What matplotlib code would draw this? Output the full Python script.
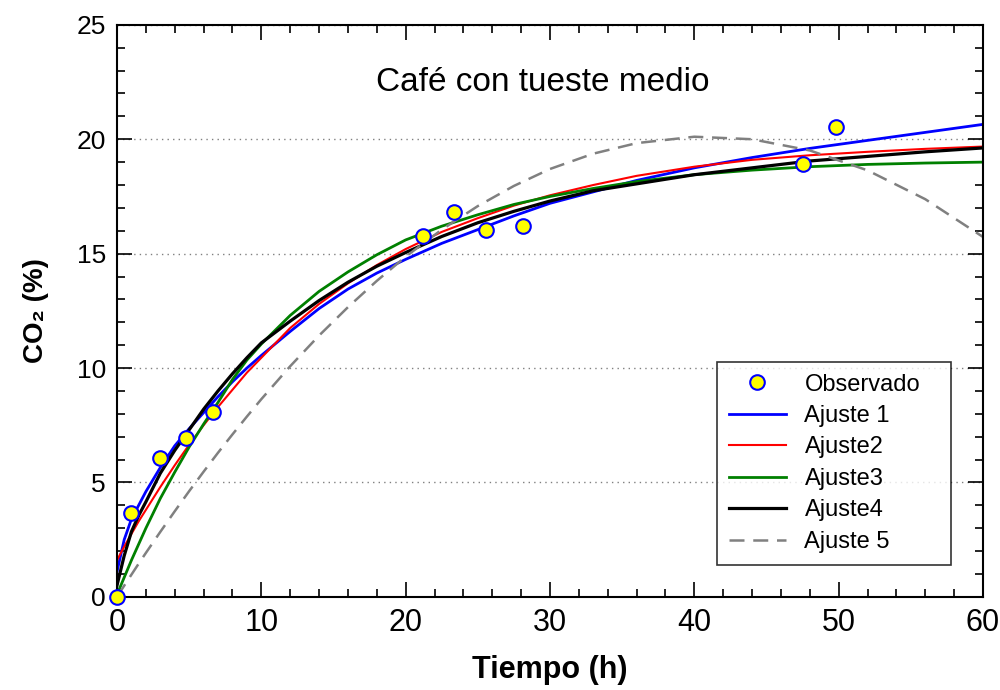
import matplotlib
matplotlib.use('Agg')
import matplotlib.pyplot as plt
from matplotlib.ticker import MultipleLocator

# observed CO2 (%) vs time (h)
obs_t = [0, 0.97, 2.98, 4.78, 6.65, 21.2, 23.35, 25.55, 28.15, 47.55, 49.8]
obs_co2 = [0, 3.67, 6.08, 6.95, 8.09, 15.78, 16.81, 16.04, 16.21, 18.91, 20.53]

# fitted curves
fit_t = [0, 0.5, 1, 1.5, 2, 3, 4, 5, 6, 7, 8, 9, 10, 12, 14, 16, 18, 20,
         22.5, 25, 27.5, 30, 33, 36, 40, 44, 48, 52, 56, 60]
ajuste1 = [1.1, 2.5, 3.4, 4.0, 4.6, 5.65, 6.6, 7.35, 8.05, 8.75, 9.4, 10.0,
           10.55, 11.6, 12.6, 13.45, 14.15, 14.75, 15.45, 16.05, 16.65, 17.2,
           17.7, 18.2, 18.75, 19.2, 19.6, 19.95, 20.3, 20.65]
ajuste2 = [1.6, 2.2, 2.75, 3.3, 3.8, 4.8, 5.75, 6.65, 7.5, 8.3, 9.05, 9.8,
           10.45, 11.75, 12.8, 13.7, 14.5, 15.2, 15.95, 16.55, 17.1, 17.55,
           18.0, 18.4, 18.8, 19.1, 19.3, 19.45, 19.58, 19.68]
ajuste3 = [0.1, 0.85, 1.6, 2.3, 3.0, 4.3, 5.45, 6.55, 7.55, 8.5, 9.5, 10.35,
           11.05, 12.3, 13.35, 14.2, 14.95, 15.6, 16.2, 16.7, 17.15, 17.5,
           17.85, 18.15, 18.45, 18.65, 18.8, 18.9, 18.96, 19.0]
ajuste4 = [0.5, 1.8, 2.85, 3.55, 4.15, 5.4, 6.4, 7.3, 8.2, 9.0, 9.75, 10.45,
           11.1, 12.05, 12.95, 13.75, 14.45, 15.05, 15.75, 16.35, 16.85, 17.3,
           17.75, 18.05, 18.45, 18.75, 19.05, 19.25, 19.45, 19.62]
ajuste5 = [0, 0.49, 0.97, 1.45, 1.92, 2.84, 3.74, 4.62, 5.47, 6.3, 7.1, 7.88,
           8.64, 10.08, 11.42, 12.66, 13.81, 14.87, 16.05, 17.08, 17.96, 18.7,
           19.37, 19.83, 20.11, 20.0, 19.51, 18.64, 17.38, 15.73]

plt.rcParams['font.family'] = ['Liberation Sans', 'DejaVu Sans']
narrow = ['Liberation Sans Narrow', 'Liberation Sans', 'DejaVu Sans']

fig = plt.figure(figsize=(10, 6.9), dpi=100)
ax = fig.add_axes([0.117, 0.135, 0.866, 0.829])

ax.plot(fit_t, ajuste1, color='#0000ff', lw=2.0, label='Ajuste 1')
ax.plot(fit_t, ajuste2, color='#ff0000', lw=1.5, label='Ajuste2')
ax.plot(fit_t, ajuste3, color='#008000', lw=2.0, label='Ajuste3')
ax.plot(fit_t, ajuste4, color='black', lw=2.3, label='Ajuste4')
ax.plot(fit_t, ajuste5, color='#808080', lw=1.8, dashes=(6, 3.5), label='Ajuste 5')
ax.plot(obs_t, obs_co2, 'o', ms=10.5, mfc='#ffff00', mec='#0000ff', mew=1.5,
        label='Observado', clip_on=False, zorder=5)

ax.set_xlim(0, 60)
ax.set_ylim(0, 25)
ax.xaxis.set_major_locator(MultipleLocator(10))
ax.xaxis.set_minor_locator(MultipleLocator(2))
ax.yaxis.set_major_locator(MultipleLocator(5))
ax.yaxis.set_minor_locator(MultipleLocator(1))
ax.tick_params(which='both', direction='in', top=True, right=True, width=1.2)
ax.tick_params(which='major', length=11)
ax.tick_params(which='minor', length=5.5)
ax.tick_params(axis='y', labelsize=19, pad=8)
ax.tick_params(axis='x', labelsize=22, pad=8)
for lab in ax.get_xticklabels():
    lab.set_family(narrow)
for s in ax.spines.values():
    s.set_linewidth(1.5)

ax.yaxis.grid(True, linestyle=(0, (1, 3)), color='gray', lw=1)

ax.set_xlabel('Tiempo (h)', fontsize=22, fontweight='bold', family=narrow, labelpad=12)
ax.set_ylabel('CO₂ (%)', fontsize=20, fontweight='bold', labelpad=20)

ax.text(0.492, 0.9, 'Café con tueste medio', transform=ax.transAxes,
        ha='center', va='center', fontsize=24)

handles, labels = ax.get_legend_handles_labels()
order = [5, 0, 1, 2, 3, 4]
leg = ax.legend([handles[i] for i in order], [labels[i] for i in order],
                loc='upper left', bbox_to_anchor=(0.693, 0.056, 0.27, 0.355),
                mode='expand', fontsize=17,
                frameon=True, fancybox=False, edgecolor='black',
                handlelength=2.4, handletextpad=0.8, labelspacing=0.4,
                borderpad=0.5, borderaxespad=0)
leg.get_frame().set_linewidth(1.2)

fig.savefig('out.png', dpi=100)
